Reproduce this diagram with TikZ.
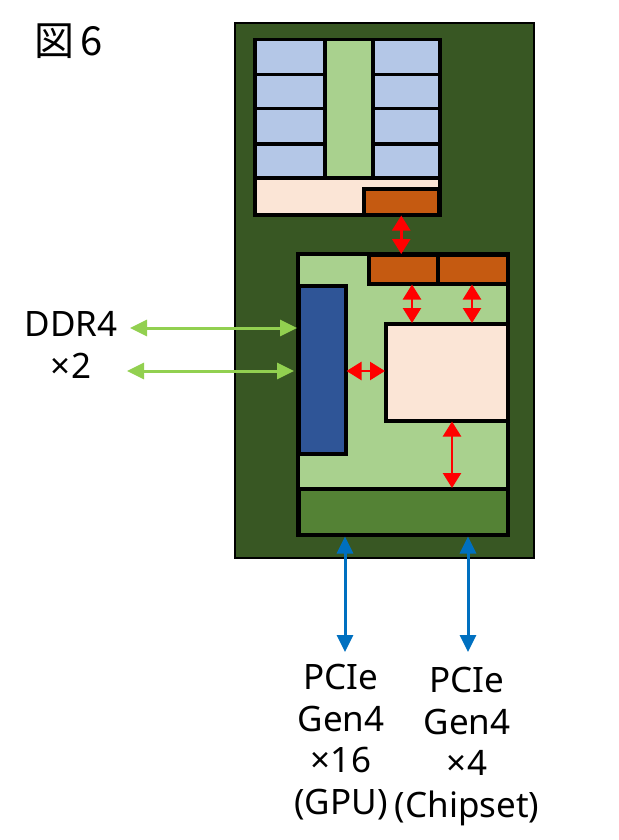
\documentclass[tikz,border=0pt]{standalone}
\usepackage{fontspec}
\setmainfont{Noto Sans}
\newfontfamily\cjk{Noto Sans CJK JP}
\usetikzlibrary{arrows.meta}
\definecolor{pkg}{HTML}{385723}
\definecolor{lgreen}{HTML}{A9D18E}
\definecolor{lblue}{HTML}{B4C7E7}
\definecolor{pale}{HTML}{FBE5D6}
\definecolor{orng}{HTML}{C55A11}
\definecolor{dblue}{HTML}{2F5597}
\definecolor{bandg}{HTML}{548235}
\definecolor{ddrg}{HTML}{92D050}
\definecolor{pcib}{HTML}{0070C0}
\tikzset{
  blk/.style={draw=black, line width=3.5pt, inner sep=0pt, anchor=north west},
  redarr/.style={draw=red, line width=2.5pt, {Triangle[length=15pt,width=18pt]}-{Triangle[length=15pt,width=18pt]}, shorten <=-1pt, shorten >=-1pt},
  grnarr/.style={draw=ddrg, line width=3pt, {Triangle[length=17pt,width=16pt]}-{Triangle[length=17pt,width=16pt]}},
  bluarr/.style={draw=pcib, line width=3pt, {Triangle[length=17pt,width=16pt]}-{Triangle[length=17pt,width=16pt]}},
  lbl/.style={font=\fontsize{35}{41.5}\selectfont, align=center, inner sep=0pt}
}
\begin{document}
\begin{tikzpicture}[x=1pt, y=-1pt]
\useasboundingbox (0,0) rectangle (618,840);
% package
\node[draw=black, line width=2pt, fill=pkg, inner sep=0pt, anchor=north west, minimum width=299pt, minimum height=535pt] (pkg) at (234,22) {};
% CCD
\node[blk, fill=pale, minimum width=185pt, minimum height=175pt] (ccd) at (253,38) {};
\node[blk, fill=lblue, minimum width=70pt, minimum height=35pt] (cl1) at (253,38) {};
\node[blk, fill=lblue, minimum width=70pt, minimum height=34pt] (cl2) at (253,73) {};
\node[blk, fill=lblue, minimum width=70pt, minimum height=35pt] (cl3) at (253,107) {};
\node[blk, fill=lblue, minimum width=70pt, minimum height=34pt] (cl4) at (253,142) {};
\node[blk, fill=lblue, minimum width=67pt, minimum height=35pt] (cr1) at (371,38) {};
\node[blk, fill=lblue, minimum width=67pt, minimum height=34pt] (cr2) at (371,73) {};
\node[blk, fill=lblue, minimum width=67pt, minimum height=35pt] (cr3) at (371,107) {};
\node[blk, fill=lblue, minimum width=67pt, minimum height=34pt] (cr4) at (371,142) {};
\node[blk, fill=lgreen, minimum width=48pt, minimum height=138pt] (l3) at (323,38) {};
\node[blk, fill=orng, minimum width=75pt, minimum height=26pt] (ccdio) at (362,187) {};
% IOD
\node[blk, fill=lgreen, minimum width=210pt, minimum height=281pt] (iod) at (296,252) {};
\node[blk, fill=orng, minimum width=69pt, minimum height=29pt] (ioL) at (367,253) {};
\node[blk, fill=orng, minimum width=70pt, minimum height=29pt] (ioR) at (436,253) {};
\node[blk, fill=dblue, minimum width=47pt, minimum height=168pt] (mc) at (297,284) {};
\node[blk, fill=pale, minimum width=122pt, minimum height=97pt] (core) at (384,322) {};
\node[blk, fill=bandg, minimum width=209pt, minimum height=46pt] (band) at (297,487) {};
% coordinates
\coordinate (xa) at (412,0);
\coordinate (xb) at (472,0);
\coordinate (xc) at (452,0);
\coordinate (xg) at (345,0);
\coordinate (xh) at (468,0);
\coordinate (yr) at (0,371);
\coordinate (d1) at (130,328);
\coordinate (d2) at (127,371);
\coordinate (p1) at (345,652);
\coordinate (p2) at (468,652);
% red arrows
\draw[redarr] (ccdio.south) -- (ccdio.south |- ioL.north);
\draw[redarr] (xa |- ioL.south) -- (xa |- core.north);
\draw[redarr] (xb |- ioR.south) -- (xb |- core.north);
\draw[redarr] (mc.east |- yr) -- (core.west |- yr);
\draw[redarr] (xc |- core.south) -- (xc |- band.north);
% green arrows
\draw[grnarr] (d1) -- (d1 -| mc.west);
\draw[grnarr] (d2) -- ([xshift=-3pt]d2 -| mc.west);
% blue arrows
\draw[bluarr] (xg |- iod.south) -- (p1);
\draw[bluarr] (xh |- iod.south) -- (p2);
% labels
\node[lbl, font=\cjk\fontsize{40}{44}\selectfont] (fig) at (69,41) {図\hspace{6pt}6};
\node[lbl] (ddr) at (71,345) {DDR4\\×2};
\node[lbl, anchor=north] (pg) at (341,664) {PCIe\\Gen4\\×16\\(GPU)};
\node[lbl, anchor=north] (pc) at (467,667) {PCIe\\Gen4\\×4\\(Chipset)};
\end{tikzpicture}
\end{document}
